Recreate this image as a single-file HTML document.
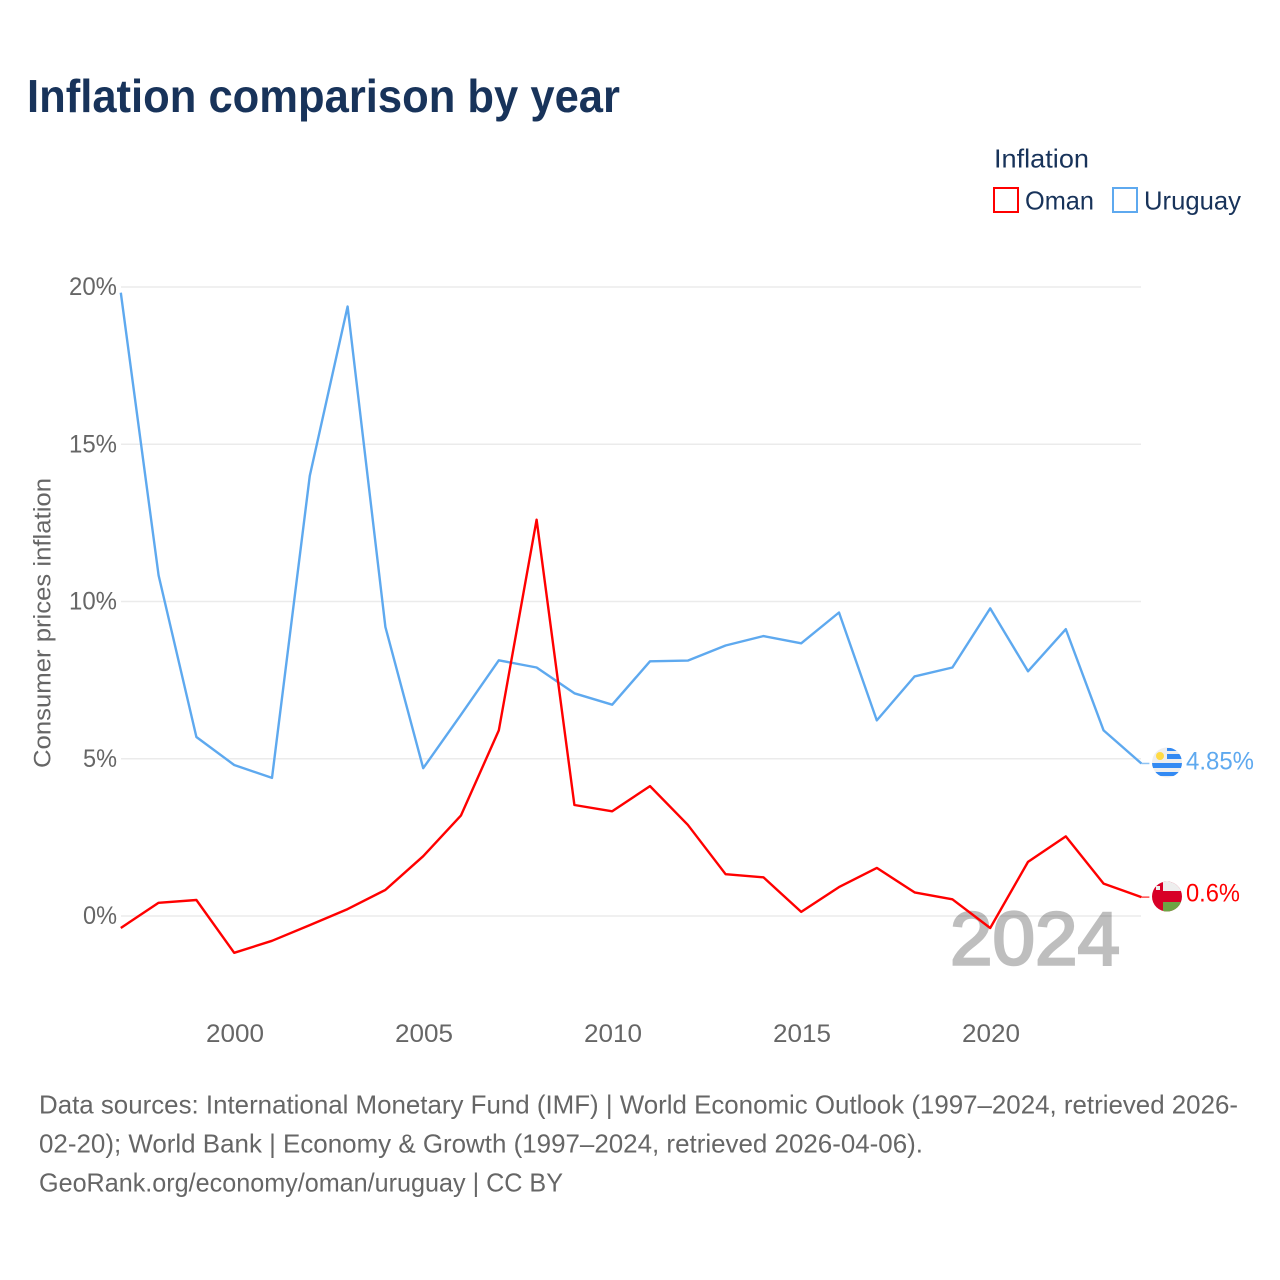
<!DOCTYPE html>
<html lang="en">
<head>
<meta charset="utf-8">
<title>Inflation comparison by year</title>
<style>
html,body{margin:0;padding:0;background:#fff;width:1280px;height:1280px;overflow:hidden}
svg{display:block}
text{font-family:"Liberation Sans",sans-serif}
</style>
</head>
<body>
<svg id="chart" width="1280" height="1280" viewBox="0 0 1280 1280" xmlns="http://www.w3.org/2000/svg">
<defs>
<clipPath id="clip-uy"><circle cx="1167" cy="762.5" r="15"/></clipPath>
<clipPath id="clip-om"><circle cx="1167" cy="896.5" r="15"/></clipPath>
</defs>
<rect width="1280" height="1280" fill="#fff"/>
<text x="27" y="112" font-size="46.5" font-weight="700" fill="#18335a" textLength="593" lengthAdjust="spacingAndGlyphs">Inflation comparison by year</text>
<text x="994" y="167.5" font-size="26" fill="#18335a" textLength="95" lengthAdjust="spacingAndGlyphs">Inflation</text>
<g>
<rect x="994" y="188" width="24" height="24" fill="none" stroke="#ff0000" stroke-width="2"/>
<text x="1025" y="209.5" font-size="26" fill="#18335a" textLength="69" lengthAdjust="spacingAndGlyphs">Oman</text>
</g>
<g>
<rect x="1113" y="188" width="24" height="24" fill="none" stroke="#5ea9ef" stroke-width="2"/>
<text x="1144" y="209.5" font-size="26" fill="#18335a" textLength="97" lengthAdjust="spacingAndGlyphs">Uruguay</text>
</g>
<g id="grid"></g>
<g id="yticks"></g>
<g id="xticks"></g>
<text transform="translate(50.5,768) rotate(-90)" font-size="24.5" fill="#666" textLength="290" lengthAdjust="spacingAndGlyphs">Consumer prices inflation</text>
<text x="950" y="964.5" font-size="75" fill="#000" stroke="#000" stroke-width="2.5" opacity="0.25" textLength="170" lengthAdjust="spacingAndGlyphs">2024</text>
<g id="series"></g>
<g clip-path="url(#clip-uy)">
<rect x="1152" y="747" width="30" height="31" fill="#eeeeee"/>
<rect x="1167" y="748" width="15" height="3" fill="#338af3"/>
<rect x="1167" y="754" width="15" height="5" fill="#338af3"/>
<rect x="1152" y="763" width="30" height="5" fill="#338af3"/>
<rect x="1152" y="772" width="30" height="4" fill="#338af3"/>
<circle cx="1160" cy="756" r="4" fill="#ffda44"/>
</g>
<g clip-path="url(#clip-om)">
<rect x="1152" y="881" width="30" height="31" fill="#d80027"/>
<rect x="1163" y="881" width="19" height="10" fill="#eeeeee"/>
<rect x="1163" y="902" width="19" height="10" fill="#6da544"/>
<rect x="1156" y="886" width="4" height="4" fill="#eeeeee"/>
</g>
<text id="label-uruguay" x="1186" y="769.5" font-size="25" fill="#5ea9ef" textLength="68" lengthAdjust="spacingAndGlyphs">4.85%</text>
<text id="label-oman" x="1186" y="901.5" font-size="25" fill="#ff0000" textLength="54" lengthAdjust="spacingAndGlyphs">0.6%</text>
<g font-size="26" fill="#666">
<text x="39" y="1113.5" textLength="1199" lengthAdjust="spacingAndGlyphs">Data sources: International Monetary Fund (IMF) | World Economic Outlook (1997–2024, retrieved 2026-</text>
<text x="39" y="1152.5" textLength="884" lengthAdjust="spacingAndGlyphs">02-20); World Bank | Economy &amp; Growth (1997–2024, retrieved 2026-04-06).</text>
<text x="39" y="1191.5" textLength="524" lengthAdjust="spacingAndGlyphs">GeoRank.org/economy/oman/uruguay | CC BY</text>
</g>
</svg>
<script>
const years = [1997,1998,1999,2000,2001,2002,2003,2004,2005,2006,2007,2008,2009,2010,2011,2012,2013,2014,2015,2016,2017,2018,2019,2020,2021,2022,2023,2024];
const omanValues = [-0.38,0.42,0.51,-1.17,-0.79,-0.29,0.22,0.83,1.9,3.2,5.9,12.6,3.53,3.33,4.13,2.9,1.33,1.23,0.13,0.92,1.53,0.75,0.53,-0.38,1.72,2.53,1.03,0.6];
const uruguayValues = [19.82,10.83,5.69,4.8,4.39,14.0,19.38,9.19,4.7,6.4,8.13,7.9,7.08,6.72,8.1,8.12,8.6,8.9,8.67,9.65,6.22,7.62,7.9,9.78,7.78,9.12,5.9,4.85];
const yTickValues = [0,5,10,15,20];
const xTickValues = [2000,2005,2010,2015,2020];

const NS = 'http://www.w3.org/2000/svg';
const xScale = year => 120.8 + (year - 1997) * 37.8;
const yScale = value => 916 - value * 31.45;

function make(tag, parent, attrs, text) {
  const el = document.createElementNS(NS, tag);
  for (const k in attrs) el.setAttribute(k, attrs[k]);
  if (text !== undefined) el.textContent = text;
  parent.appendChild(el);
  return el;
}

const grid = document.getElementById('grid');
const yticks = document.getElementById('yticks');
const xticks = document.getElementById('xticks');
const series = document.getElementById('series');

yTickValues.forEach(v => {
  const line = make('line', grid, {x1: 121, x2: 1141, y1: yScale(v), y2: yScale(v), stroke: '#ebebeb', 'stroke-width': 1.5});
  
  
  const str = v + '%';
  const label = make('text', yticks, {x: 117, y: yScale(v) + 8, 'text-anchor': 'end', 'font-size': 25, fill: '#666', textLength: (str.length - 1) * 14 + 20, lengthAdjust: 'spacingAndGlyphs'}, str);
  
  
});

xTickValues.forEach(y => {
  const label = make('text', xticks, {x: xScale(y) + 0.8, y: 1042, 'text-anchor': 'middle', 'font-size': 25, fill: '#666', textLength: 58, lengthAdjust: 'spacingAndGlyphs'}, String(y));
  
  
});

function drawSeries(values, color, name) {
  const pts = values.map((v, i) => xScale(years[i]).toFixed(1) + ',' + yScale(v).toFixed(1)).join(' ');
  const line = make('polyline', series, {points: pts, fill: 'none', stroke: color, 'stroke-width': 2.4, 'stroke-linejoin': 'round'});
  
  
  const last = values[values.length - 1];
  const lastYear = years[years.length - 1];
  const tail = make('line', series, {x1: xScale(lastYear), x2: xScale(lastYear) + 8, y1: yScale(last), y2: yScale(last), stroke: color, 'stroke-width': 1.5, opacity: 0.7});
  
  
}
drawSeries(uruguayValues, '#5ea9ef', 'uruguay-line');
drawSeries(omanValues, '#ff0000', 'oman-line');
</script>
</body>
</html>
